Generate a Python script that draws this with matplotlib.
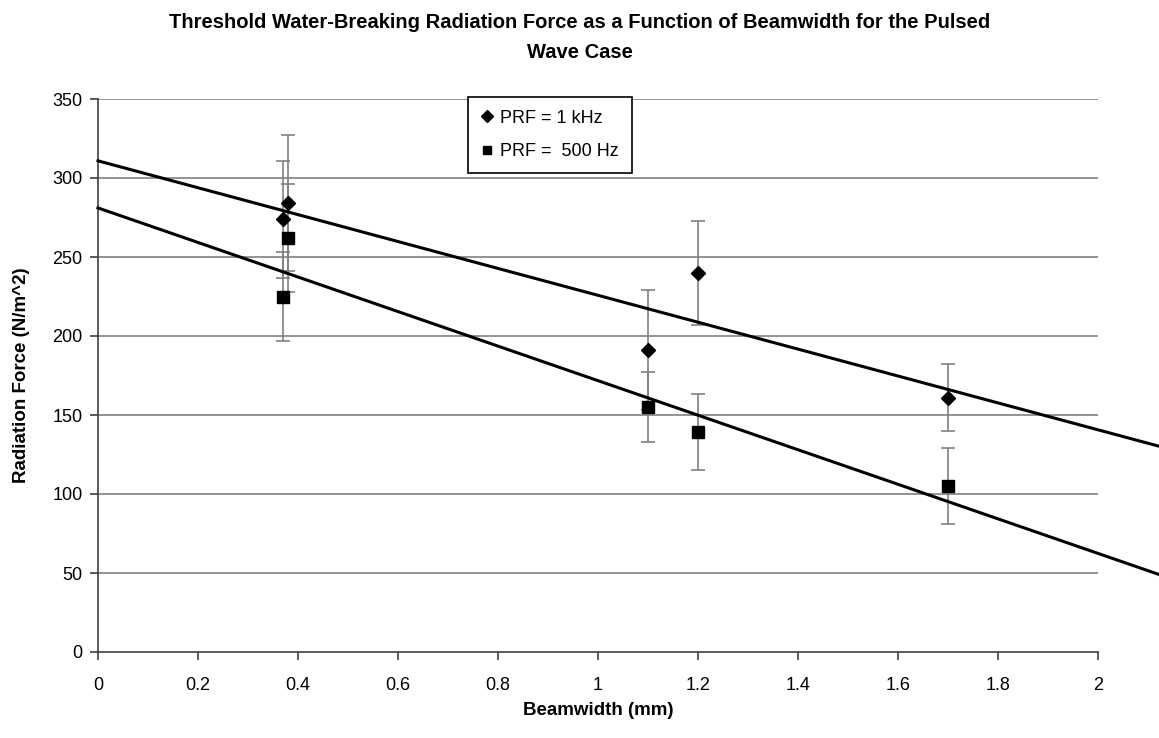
import numpy as np
import matplotlib
matplotlib.use("Agg")
import matplotlib.pyplot as plt

plt.rcParams['font.family'] = ['Liberation Sans', 'DejaVu Sans']

# beamwidth (mm), threshold force (N/m^2) and error bar half-widths
beam_1k = [0.37, 0.38, 1.1, 1.2, 1.7]
force_1k = [274, 284, 191, 240, 161]
err_1k = [37, 43, 38, 33, 21]

beam_500 = [0.37, 0.38, 1.1, 1.2, 1.7]
force_500 = [225, 262, 155, 139, 105]
err_500 = [28, 34, 22, 24, 24]

labels = ['PRF = 1 kHz', 'PRF =  500 Hz']
x_ticks = [0, 0.2, 0.4, 0.6, 0.8, 1, 1.2, 1.4, 1.6, 1.8, 2]
y_ticks = [0, 50, 100, 150, 200, 250, 300, 350]

fig = plt.figure(figsize=(11.59, 7.38), dpi=100)
ax = fig.add_axes([98/1159, 1 - 652/738, 1000/1159, 553/738])

grid_c = '#808080'
for yv in y_ticks[1:]:
    ax.axhline(yv, color=grid_c, lw=1.2, zorder=1)

# linear trend lines, extended past the axis to the figure edge
xfit = np.array([0, 2.4])
for bx, fy in [(beam_1k, force_1k), (beam_500, force_500)]:
    k, b = np.polyfit(bx, fy, 1)
    ax.plot(xfit, k * xfit + b, color='black', lw=2.2, clip_on=False, zorder=3)

ax.errorbar(beam_1k, force_1k, yerr=err_1k, fmt='none', ecolor=grid_c,
            elinewidth=1.2, capsize=5, capthick=1.2, zorder=2)
ax.errorbar(beam_500, force_500, yerr=err_500, fmt='none', ecolor=grid_c,
            elinewidth=1.2, capsize=5, capthick=1.2, zorder=2)
h1, = ax.plot(beam_1k, force_1k, 'D', color='black', ms=7.5, ls='none', zorder=4)
h2, = ax.plot(beam_500, force_500, 's', color='black', ms=8, ls='none', zorder=4)

ax.set_xlim(0, 2)
ax.set_ylim(0, 350)
ax.set_xticks(x_ticks)
ax.set_xticklabels([f'{v:g}' for v in x_ticks])
ax.set_yticks(y_ticks)
for s in ['top', 'right']:
    ax.spines[s].set_visible(False)
for s in ['left', 'bottom']:
    ax.spines[s].set_color('#404040')
    ax.spines[s].set_linewidth(1.2)
ax.tick_params(direction='out', length=6, width=1.2, color='#404040',
               labelsize=13, pad=5)
ax.tick_params(axis='x', pad=12)

ax.set_xlabel('Beamwidth (mm)', fontsize=13.5, fontweight='bold', labelpad=6)
ax.set_ylabel('Radiation Force (N/m^2)', fontsize=13.5, fontweight='bold', labelpad=16)

fig.text(0.5, 1 - 22/738, 'Threshold Water-Breaking Radiation Force as a Function of Beamwidth for the Pulsed',
         ha='center', va='center', fontsize=14.5, fontweight='bold')
fig.text(0.5, 1 - 52/738, 'Wave Case', ha='center', va='center',
         fontsize=14.5, fontweight='bold')

leg = ax.legend([h1, h2], labels, loc='upper left',
                bbox_to_anchor=(468/1159, 1 - 97/738), bbox_transform=fig.transFigure,
                fancybox=False, edgecolor='black', framealpha=1, fontsize=13,
                borderaxespad=0, handlelength=0.7, handletextpad=0.4,
                labelspacing=0.9, borderpad=0.7, markerscale=0.75)
leg.get_frame().set_linewidth(1.2)
leg.set_zorder(5)

fig.savefig('out.png', dpi=100)
